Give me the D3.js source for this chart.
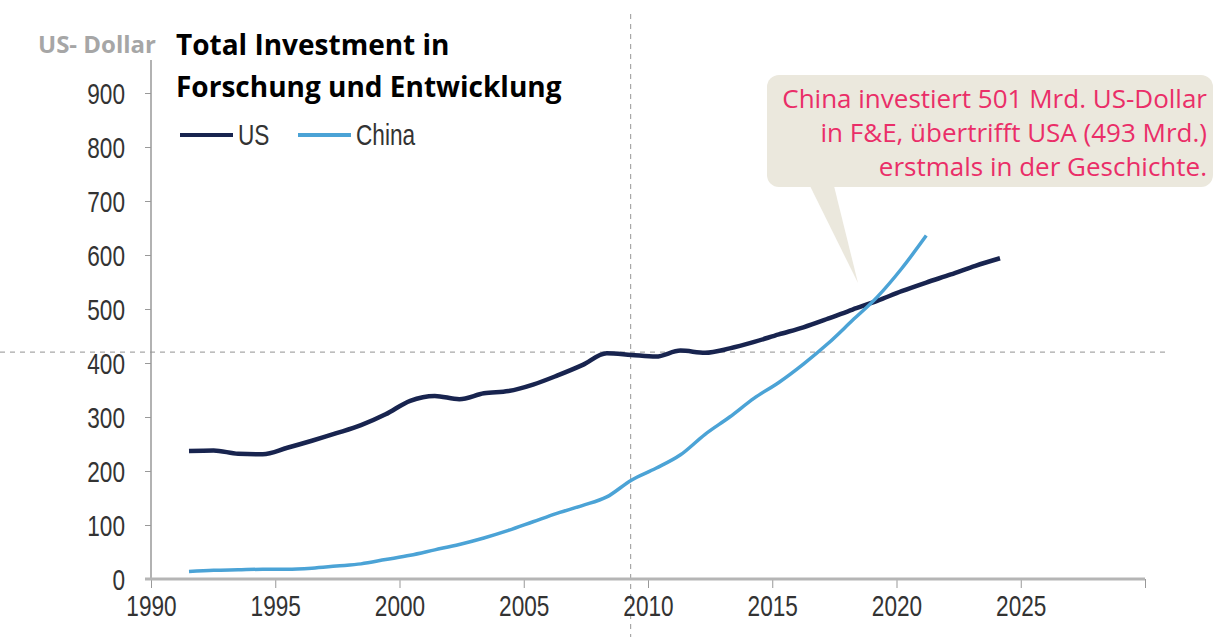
<!DOCTYPE html>
<html lang="de">
<head>
	<meta charset="utf-8">
	<title>Total Investment in Forschung und Entwicklung</title>
	<script src="https://cdn.jsdelivr.net/npm/d3@7"></script>
	<style>
		body { margin: 0; background: #fff; }
		.tick text { font-family: "Liberation Sans Narrow", "Liberation Sans", sans-serif; font-size: 29px; fill: #333; }
	</style>
</head>
<body>
<script>
	// data (billion US-Dollar)
	var usYears = [1991, 1992, 1993, 1994, 1995, 1996, 1997, 1998, 1999, 2000, 2001, 2002, 2003, 2004, 2005, 2006, 2007,
		2008, 2009, 2010, 2011, 2012, 2013, 2014, 2015, 2016, 2017, 2018, 2019, 2020, 2021, 2022, 2023, 2024];
	var usValues = [237, 238, 232, 231, 243, 256, 270, 285, 305, 330, 339, 333, 344, 348, 360, 377, 396,
		418, 415, 412, 423, 419, 427, 439, 453, 466, 482, 499, 515, 533, 549, 564, 580, 594];

	var chinaYears = [1991, 1992, 1993, 1994, 1995, 1996, 1997, 1998, 1999, 2000, 2001, 2002, 2003, 2004, 2005, 2006, 2007,
		2008, 2009, 2010, 2011, 2012, 2013, 2014, 2015, 2016, 2017, 2018, 2019, 2020, 2021];
	var chinaValues = [14, 16, 17, 18, 18, 20, 24, 28, 36, 44, 54, 64, 76, 90, 106, 122, 136,
		152, 183, 205, 230, 268, 300, 335, 364, 398, 436, 479, 522, 575, 636];

	var xTicks = [1990, 1995, 2000, 2005, 2010, 2015, 2020, 2025, 2030];
	var xTickLabels = ["1990", "1995", "2000", "2005", "2010", "2015", "2020", "2025", ""];
	var yTicks = [0, 100, 200, 300, 400, 500, 600, 700, 800, 900];

	var seriesNames = ["US", "China"];
	var seriesColors = ["#18244f", "#4ba3d6"];

	var calloutLines = ["China investiert 501 Mrd. US-Dollar", "in F&E, übertrifft USA (493 Mrd.)", "erstmals in der Geschichte."];

	var w = 1217, h = 637;
	var squeeze = 0.78; // the chart's digits are tall and narrow

	var svg = d3.select("body").append("svg")
		.attr("width", w)
		.attr("height", h);

	// axis scale (ticks) and the scale the lines are drawn on (they sit a bit off the ticks in the original)
	var xAxisScale = d3.scaleLinear().domain([1990, 2030]).range([151, 1145]);
	var xScale = d3.scaleLinear().domain([1991, 2024]).range([189, 1000]);
	var yScale = d3.scaleLinear().domain([0, 900]).range([579, 93]);

	// crosshair (dashed)
	svg.append("line")
		.attr("x1", xAxisScale(2009.3)).attr("x2", xAxisScale(2009.3))
		.attr("y1", 14).attr("y2", h)
		.attr("stroke", "#a8a8a8").attr("stroke-width", 1.2)
		.attr("stroke-dasharray", "5,5");
	svg.append("line")
		.attr("x1", 0).attr("x2", 1165)
		.attr("y1", yScale(420)).attr("y2", yScale(420))
		.attr("stroke", "#a8a8a8").attr("stroke-width", 1.2)
		.attr("stroke-dasharray", "5,5");

	// y axis
	var yAxis = svg.append("g")
		.attr("transform", "translate(151,0)")
		.call(d3.axisLeft(yScale).tickValues(yTicks).tickSize(6));
	yAxis.select(".domain").remove();
	yAxis.selectAll(".tick line").attr("stroke", "#999");
	yAxis.selectAll(".tick text")
		.attr("x", 0)
		.attr("dy", "0.36em")
		.attr("transform", "translate(-26,0) scale(" + squeeze + ",1)");
	svg.append("line")
		.attr("x1", 151).attr("x2", 151)
		.attr("y1", 60).attr("y2", yScale(0))
		.attr("stroke", "#999").attr("stroke-width", 1.5);

	// x axis
	var xAxis = svg.append("g")
		.attr("transform", "translate(0," + yScale(0) + ")")
		.call(d3.axisBottom(xAxisScale).tickValues(xTicks)
			.tickFormat(function(d, i) { return xTickLabels[i]; })
			.tickSize(9).tickPadding(7));
	xAxis.select(".domain").remove();
	xAxis.selectAll(".tick line").attr("stroke", "#999");
	xAxis.selectAll(".tick text")
		.attr("transform", "scale(" + squeeze + ",1)");
	svg.append("line")
		.attr("x1", 145).attr("x2", xAxisScale(2030))
		.attr("y1", yScale(0)).attr("y2", yScale(0))
		.attr("stroke", "#b5b5b5").attr("stroke-width", 3);

	// lines
	var line = d3.line()
		.x(function(d) { return xScale(d[0]); })
		.y(function(d) { return yScale(d[1]); })
		.curve(d3.curveMonotoneX);

	var series = [
		d3.zip(usYears, usValues),
		d3.zip(chinaYears, chinaValues)
	];

	svg.selectAll("path.series")
		.data(series)
		.enter()
		.append("path")
		.attr("class", "series")
		.attr("d", line)
		.attr("fill", "none")
		.attr("stroke", function(d, i) { return seriesColors[i]; })
		.attr("stroke-width", function(d, i) { return i === 0 ? 4.5 : 3.5; })
		.attr("stroke-linejoin", "round");

	// titles
	svg.append("text")
		.attr("x", 38).attr("y", 53)
		.text("US- Dollar")
		.attr("font-family", "'Open Sans', sans-serif")
		.attr("font-weight", "bold")
		.attr("font-size", 24)
		.attr("fill", "#a6a6a6");

	svg.append("text")
		.attr("x", 176).attr("y", 55)
		.text("Total Investment in")
		.attr("font-family", "'Open Sans', sans-serif")
		.attr("font-weight", "bold")
		.attr("font-size", 28)
		.attr("fill", "#000");
	svg.append("text")
		.attr("x", 176).attr("y", 97)
		.text("Forschung und Entwicklung")
		.attr("font-family", "'Open Sans', sans-serif")
		.attr("font-weight", "bold")
		.attr("font-size", 28)
		.attr("fill", "#000");

	// legend
	var legendX = [180, 298];
	var legend = svg.selectAll("g.legend")
		.data(seriesNames)
		.enter()
		.append("g")
		.attr("class", "legend")
		.attr("transform", function(d, i) { return "translate(" + legendX[i] + ",135)"; });
	legend.append("line")
		.attr("x1", 0).attr("x2", 53)
		.attr("stroke", function(d, i) { return seriesColors[i]; })
		.attr("stroke-width", 4);
	legend.append("text")
		.attr("dy", "0.36em")
		.attr("transform", "translate(58,0) scale(" + squeeze + ",1)")
		.text(function(d) { return d; })
		.attr("font-family", "'Liberation Sans Narrow', 'Liberation Sans', sans-serif")
		.attr("font-size", 29)
		.attr("fill", "#333");

	// callout bubble
	var bubble = svg.append("g");
	bubble.append("path")
		.attr("d", "M810,186 L858,283 L834,186 Z")
		.attr("fill", "#ebe8dd");
	bubble.append("rect")
		.attr("x", 767).attr("y", 75)
		.attr("width", 446).attr("height", 112)
		.attr("rx", 12)
		.attr("fill", "#ebe8dd");
	bubble.selectAll("text")
		.data(calloutLines)
		.enter()
		.append("text")
		.attr("x", 1207)
		.attr("y", function(d, i) { return 108 + i * 34; })
		.attr("text-anchor", "end")
		.text(function(d) { return d; })
		.attr("font-family", "'Open Sans', sans-serif")
		.attr("font-size", 26)
		.attr("fill", "#ea2e68");
</script>
</body>
</html>
